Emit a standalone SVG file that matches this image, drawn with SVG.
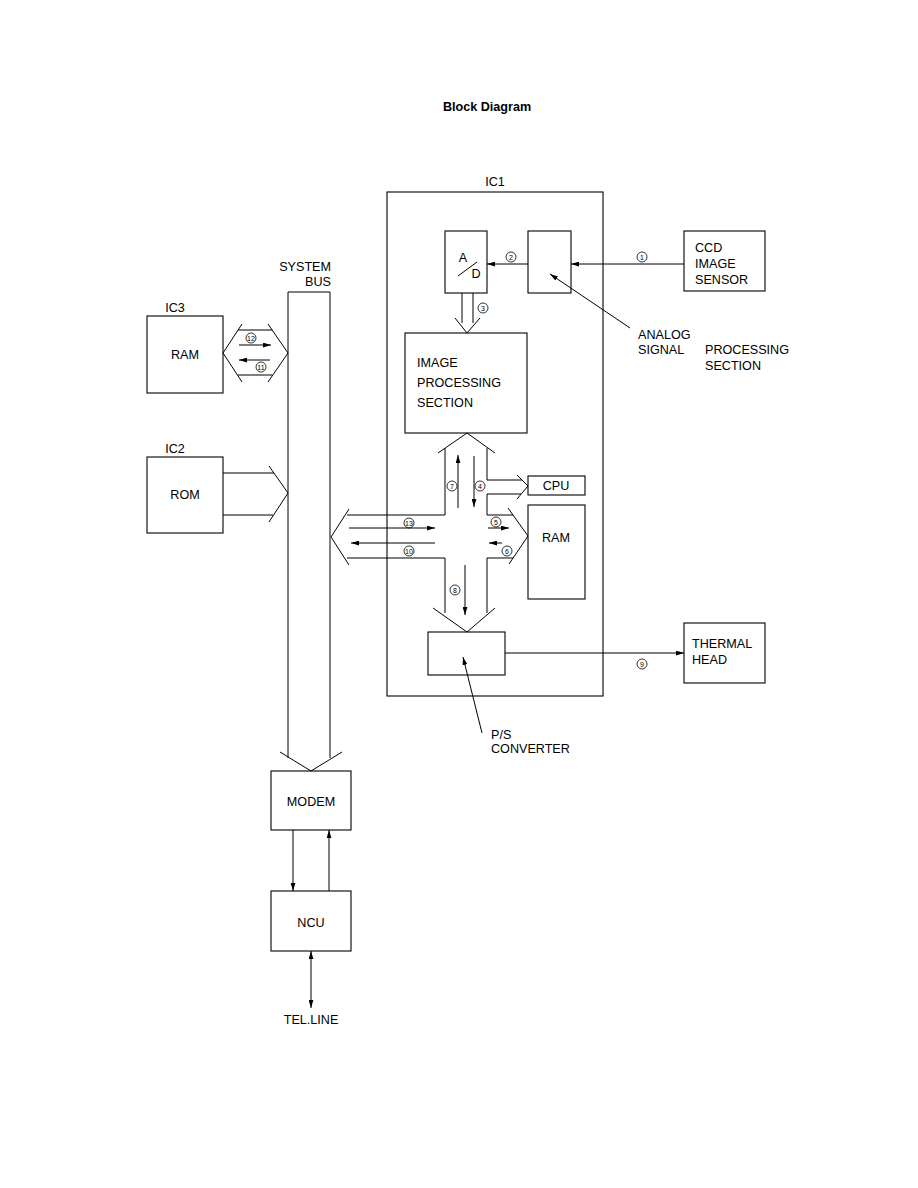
<svg xmlns="http://www.w3.org/2000/svg" width="918" height="1188" viewBox="0 0 918 1188">
<defs>
<marker id="ah" viewBox="0 0 10 6" refX="10" refY="3" markerWidth="8" markerHeight="5" markerUnits="userSpaceOnUse" orient="auto-start-reverse"><path d="M0,0 L10,3 L0,6 z" fill="#000"/></marker>
<style>
.b{fill:none;stroke:#000;stroke-width:1.1}
.l{fill:none;stroke:#000;stroke-width:1}
.t{font-family:"Liberation Sans",Arial,sans-serif;font-size:12.6px;fill:#000}
.c{fill:none;stroke:#000;stroke-width:0.8}
.n{font-family:"Liberation Sans",Arial,sans-serif;font-size:7px;fill:#000;text-anchor:middle}
.a{fill:none;stroke:#000;stroke-width:1;marker-end:url(#ah)}
</style>
</defs>
<rect width="918" height="1188" fill="#fff"/>
<text x="487" y="111" class="t" style="font-weight:bold;font-size:12.6px" text-anchor="middle">Block Diagram</text>

<g id="ic1"><rect x="387" y="192" width="216" height="504" class="b"/><text x="495" y="186" class="t" text-anchor="middle">IC1</text></g>
<g id="ad"><rect x="445" y="231" width="42" height="62" class="b"/><text x="463" y="262" class="t" text-anchor="middle">A</text><line x1="458" y1="276" x2="477" y2="262" class="l"/><text x="476" y="278" class="t" text-anchor="middle">D</text></g>
<g id="asp"><rect x="528" y="231" width="43" height="62" class="b"/></g>
<g id="ccd"><rect x="684" y="231" width="81" height="60" class="b"/><text class="t" x="695" y="252">CCD</text><text class="t" x="695" y="268">IMAGE</text><text class="t" x="695" y="284">SENSOR</text></g>
<g id="asp-label"><text class="t" x="638" y="339">ANALOG</text><text class="t" x="638" y="354">SIGNAL</text><text class="t" x="705" y="354">PROCESSING</text><text class="t" x="705" y="370">SECTION</text></g>
<g id="ips"><rect x="405" y="333" width="122" height="100" class="b"/><text class="t" x="417" y="367">IMAGE</text><text class="t" x="417" y="387">PROCESSING</text><text class="t" x="417" y="407">SECTION</text></g>
<g id="cpu"><rect x="528" y="476" width="57" height="19" class="b"/><text class="t" x="556" y="490" text-anchor="middle">CPU</text></g>
<g id="ram1"><rect x="528" y="505" width="57" height="94" class="b"/><text class="t" x="556" y="542" text-anchor="middle">RAM</text></g>
<g id="ps"><rect x="428" y="632" width="77" height="43" class="b"/></g>
<g id="ps-label"><text class="t" x="491" y="739">P/S</text><text class="t" x="491" y="753">CONVERTER</text></g>
<g id="thermal"><rect x="684" y="623" width="81" height="60" class="b"/><text class="t" x="692" y="648">THERMAL</text><text class="t" x="692" y="664">HEAD</text></g>
<g id="sysbus"><text class="t" x="331" y="271" text-anchor="end">SYSTEM</text><text class="t" x="331" y="286" text-anchor="end">BUS</text></g>
<g id="ic3"><rect x="147" y="316" width="76" height="77" class="b"/><text class="t" x="175" y="312" text-anchor="middle">IC3</text><text class="t" x="185" y="359" text-anchor="middle">RAM</text></g>
<g id="ic2"><rect x="147" y="457" width="76" height="76" class="b"/><text class="t" x="175" y="453" text-anchor="middle">IC2</text><text class="t" x="185" y="499" text-anchor="middle">ROM</text></g>
<g id="modem"><rect x="271" y="771" width="80" height="59" class="b"/><text class="t" x="311" y="806" text-anchor="middle">MODEM</text></g>
<g id="ncu"><rect x="271" y="891" width="80" height="60" class="b"/><text class="t" x="311" y="927" text-anchor="middle">NCU</text></g>
<g id="tel"><text class="t" x="311" y="1024" text-anchor="middle">TEL.LINE</text></g>

<g id="connectors">
<polyline points="288,758 288,292 330,292 330,758" class="l"/>
<polyline points="280,752 311,771 342,752" class="l"/>
<line x1="684" y1="264" x2="571" y2="264" class="a"/>
<line x1="528" y1="264" x2="487" y2="264" class="a"/>
<line x1="630" y1="328" x2="550" y2="274" class="a"/>
<line x1="505" y1="653" x2="684" y2="653" class="a"/>
<line x1="482" y1="733" x2="463" y2="657" class="a"/>
<line x1="462" y1="293" x2="462" y2="323" class="l"/>
<line x1="473" y1="293" x2="473" y2="323" class="l"/>
<polyline points="455,318 467,333 480,318" class="l"/>
<polyline points="242,324 223,353 242,382" class="l"/>
<polyline points="268,324 288,353 268,382" class="l"/>
<line x1="238" y1="330" x2="272" y2="330" class="l"/>
<line x1="238" y1="375" x2="272" y2="375" class="l"/>
<line x1="239" y1="345" x2="271" y2="345" class="a"/>
<line x1="270" y1="360" x2="239" y2="360" class="a"/>
<line x1="223" y1="473" x2="274" y2="473" class="l"/>
<line x1="223" y1="515" x2="273" y2="515" class="l"/>
<polyline points="269,466 288,493 269,522" class="l"/>
<polyline points="438,453 467,433 495,453" class="l"/>
<polyline points="445,448 445,515 347,515" class="l"/>
<polyline points="347,558 445,558 445,613" class="l"/>
<polyline points="349,509 331,537 349,565" class="l"/>
<polyline points="487,448 487,480 522,480" class="l"/>
<polyline points="521,494 487,494 487,515 513,515" class="l"/>
<polyline points="513,558 487,558 487,613" class="l"/>
<polyline points="517,475 528,486 517,499" class="l"/>
<polyline points="508,508 528,536 509,564" class="l"/>
<polyline points="433,608 467,632 495,608" class="l"/>
<line x1="458" y1="508" x2="458" y2="455" class="a"/>
<line x1="474" y1="456" x2="474" y2="507" class="a"/>
<line x1="349" y1="528" x2="435" y2="528" class="a"/>
<line x1="435" y1="543" x2="351" y2="543" class="a"/>
<line x1="488" y1="528" x2="509" y2="528" class="a"/>
<line x1="502" y1="543" x2="489" y2="543" class="a"/>
<line x1="465" y1="565" x2="465" y2="615" class="a"/>
<line x1="293" y1="830" x2="293" y2="891" class="a"/>
<line x1="329" y1="891" x2="329" y2="830" class="a"/>
<line x1="311" y1="951" x2="311" y2="1008" class="a" style="marker-start:url(#ah)"/>
</g>

<g id="labels">
<circle cx="642" cy="257" r="5" class="c"/><text class="n" x="642" y="259.5">1</text>
<circle cx="511" cy="257" r="5" class="c"/><text class="n" x="511" y="259.5">2</text>
<circle cx="483" cy="308" r="5" class="c"/><text class="n" x="483" y="310.5">3</text>
<circle cx="480" cy="486" r="5" class="c"/><text class="n" x="480" y="488.5">4</text>
<circle cx="496" cy="522" r="5" class="c"/><text class="n" x="496" y="524.5">5</text>
<circle cx="507" cy="551" r="5" class="c"/><text class="n" x="507" y="553.5">6</text>
<circle cx="452" cy="486" r="5" class="c"/><text class="n" x="452" y="488.5">7</text>
<circle cx="455" cy="590" r="5" class="c"/><text class="n" x="455" y="592.5">8</text>
<circle cx="642" cy="664" r="5" class="c"/><text class="n" x="642" y="666.5">9</text>
<circle cx="409" cy="551" r="5" class="c"/><text class="n" x="409" y="553.5">10</text>
<circle cx="261" cy="367" r="5" class="c"/><text class="n" x="261" y="369.5">11</text>
<circle cx="251" cy="338" r="5" class="c"/><text class="n" x="251" y="340.5">12</text>
<circle cx="409" cy="523" r="5" class="c"/><text class="n" x="409" y="525.5">13</text>
</g>
</svg>
